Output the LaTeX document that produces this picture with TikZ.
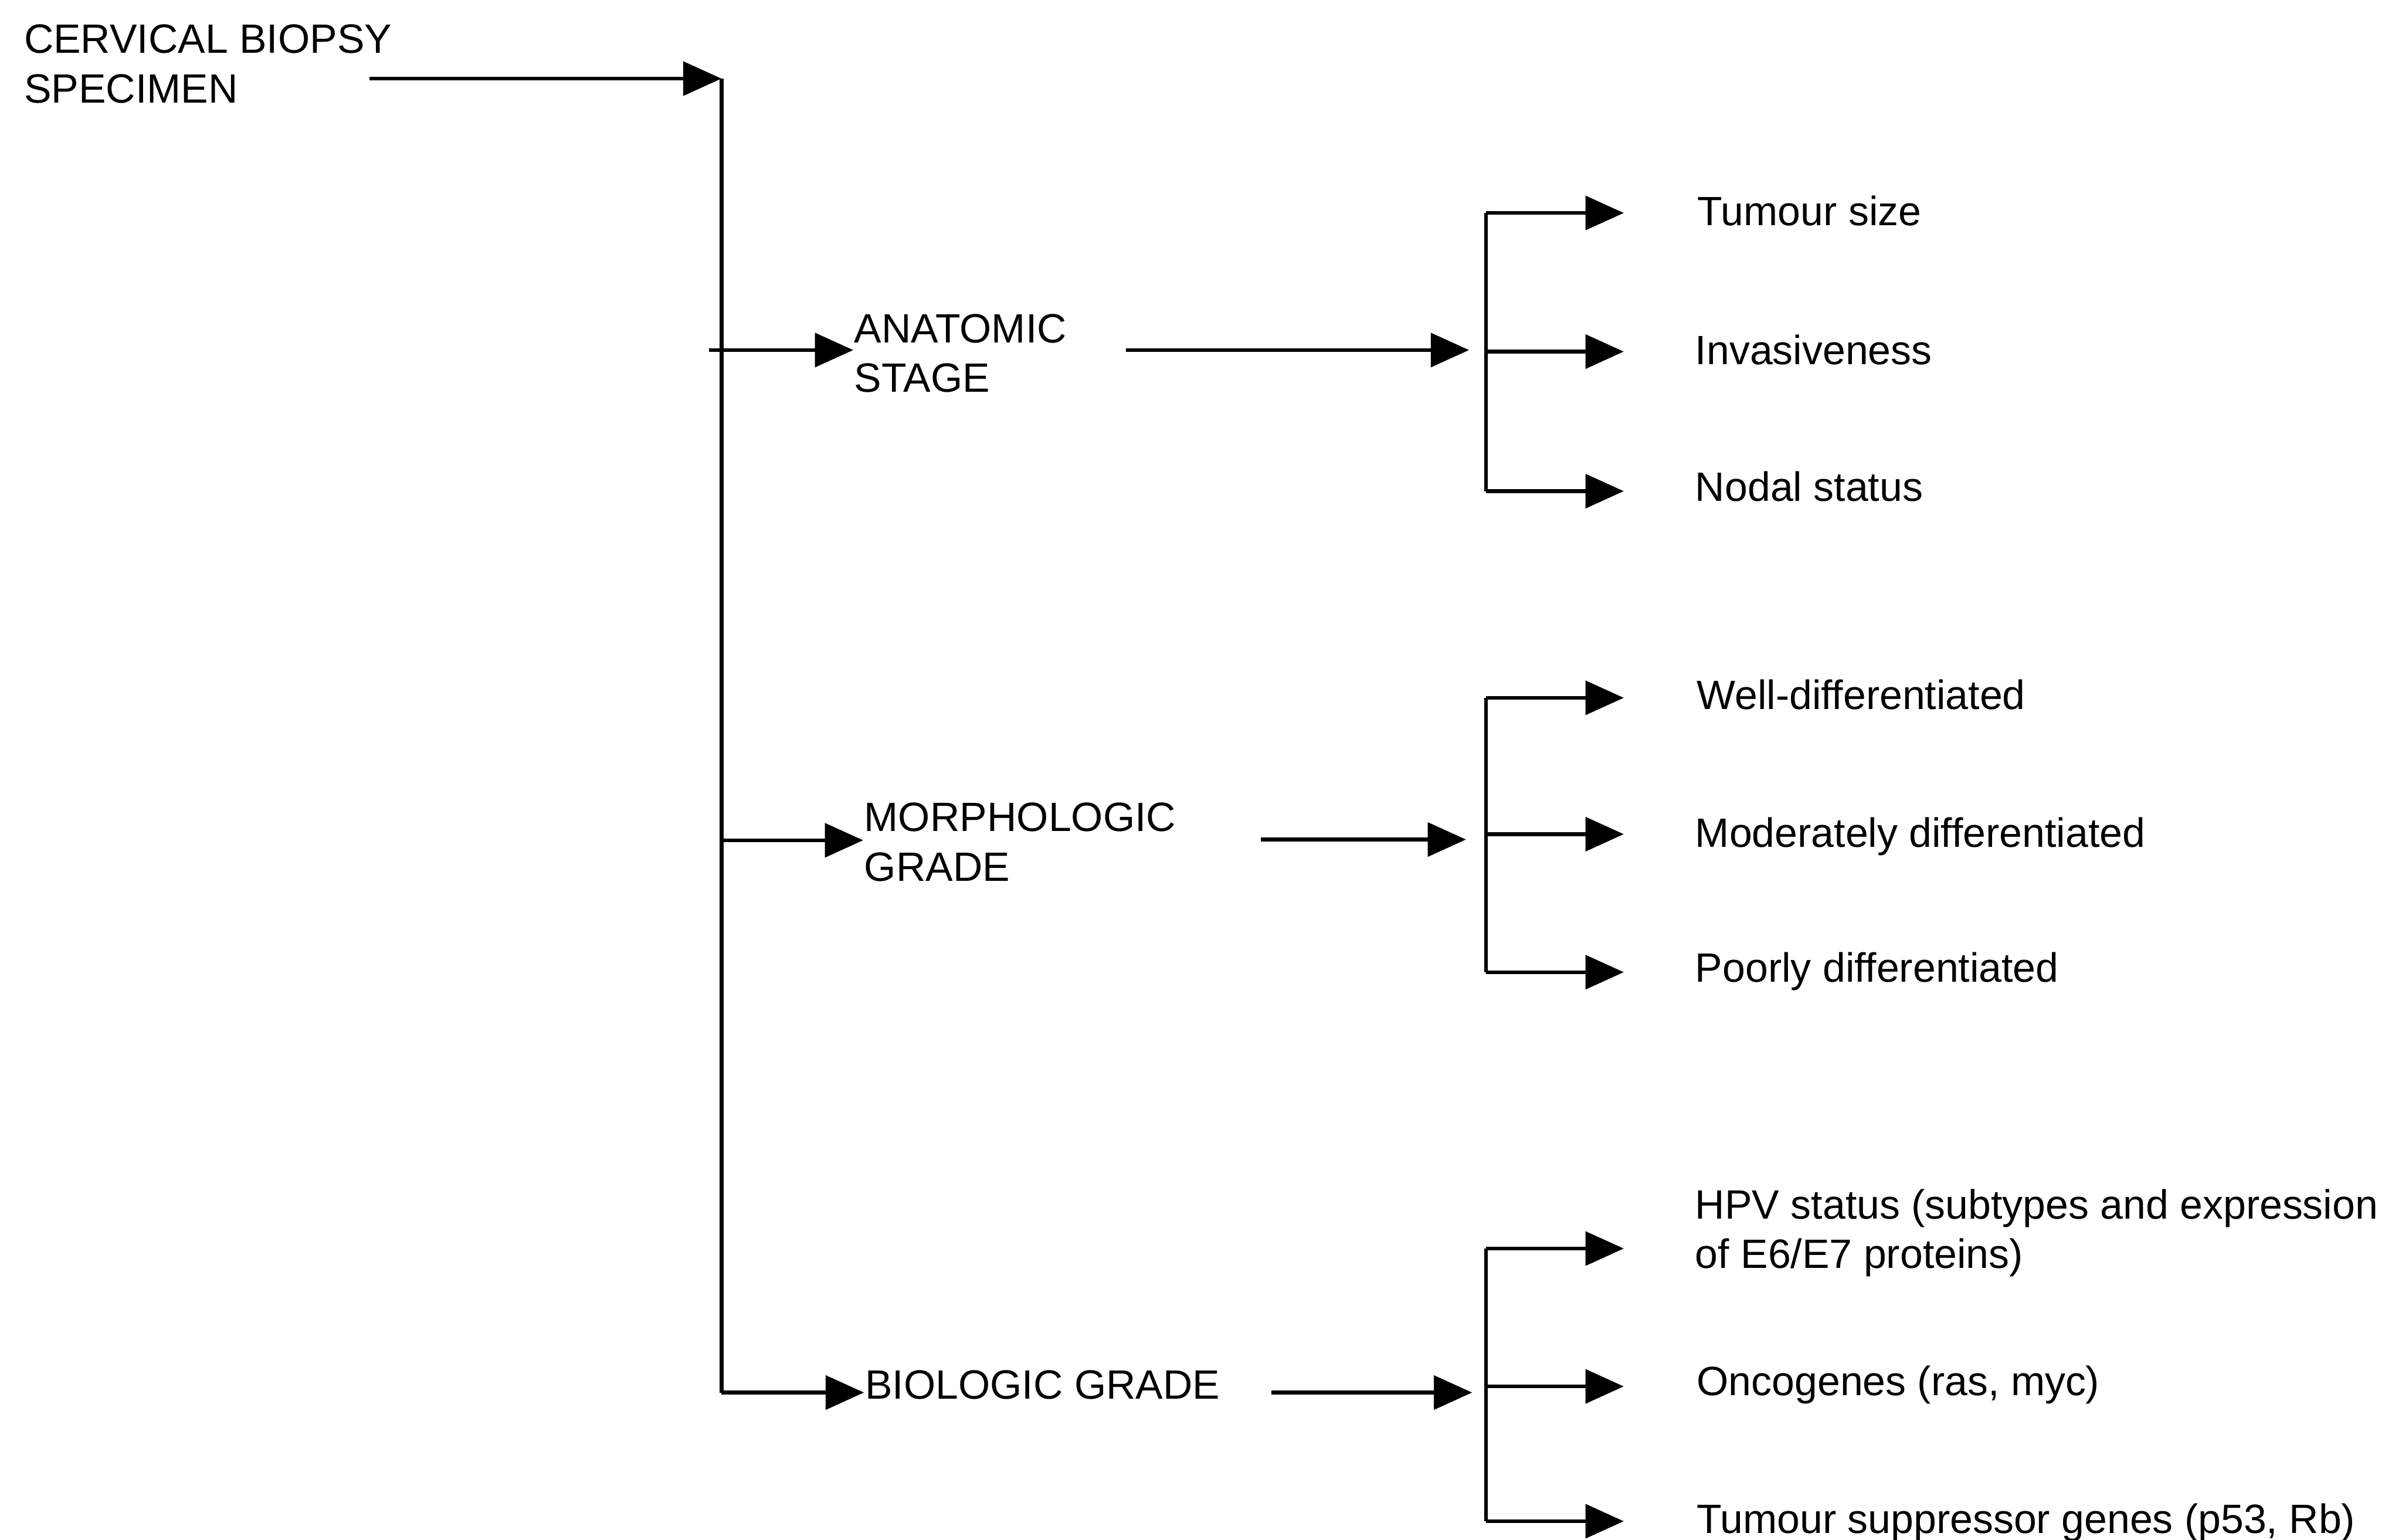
\documentclass[tikz,border=0pt]{standalone}
\usepackage{fontspec}
\setmainfont{Liberation Sans}
\usetikzlibrary{arrows.meta}
\begin{document}
\begin{tikzpicture}[x=0.01cm,y=-0.01cm,
  lbl/.style={anchor=base west, inner sep=0pt, align=left, font=\fontsize{7.6}{9.2}\selectfont},
  ln/.style={line width=0.7pt},
  arr/.style={line width=0.7pt, -{Triangle[length=0.25cm,width=0.22cm]}}]
\useasboundingbox (0,0) rectangle (1568,1005);

% ---- text nodes (base = baseline of the last line) ----
\node[lbl] (cbs)   at (15,67)     {CERVICAL BIOPSY\\SPECIMEN};
\node[lbl] (anat)  at (557,256)   {ANATOMIC\\STAGE};
\node[lbl] (morph) at (563.5,575) {MORPHOLOGIC\\GRADE};
\node[lbl] (bio)   at (564,913)   {BIOLOGIC GRADE};

\node[lbl] (ts)   at (1107.5,147) {Tumour size};
\node[lbl] (inv)  at (1106,238)   {Invasiveness};
\node[lbl] (nod)  at (1106,327)   {Nodal status};
\node[lbl] (well) at (1107,463)   {Well-differentiated};
\node[lbl] (mod)  at (1106,553)   {Moderately differentiated};
\node[lbl] (poor) at (1106,641)   {Poorly differentiated};
\node[lbl] (hpv)  at (1106,828)   {HPV status (subtypes and expression\\of E6/E7 proteins)};
\node[lbl] (onc)  at (1107,911)   {Oncogenes (ras, myc)};
\node[lbl] (tsg)  at (1107,1001)  {Tumour suppressor genes (p53, Rb)};

% ---- junction coordinates ----
\coordinate (s0) at (241,51.3);
\coordinate (j0) at (471,51.3);
\coordinate (jA) at (463,228.5);
\coordinate (jM) at (471,548.5);
\coordinate (jB) at (471,909);

\coordinate (aS) at (735,228.5);  \coordinate (aT) at (959,228.5);
\coordinate (mS) at (823,548);    \coordinate (mT) at (957,548);
\coordinate (bS) at (830,909);    \coordinate (bT) at (961,909);

\coordinate (ka1) at (970,139);   \coordinate (ka2) at (970,229.5); \coordinate (ka3) at (970,320.6);
\coordinate (km1) at (970,455.5); \coordinate (km2) at (970,544.5); \coordinate (km3) at (970,634.6);
\coordinate (kb1) at (970,815);   \coordinate (kb2) at (970,905);   \coordinate (kb3) at (970,993);

\coordinate (ta1) at (1060,139);   \coordinate (ta2) at (1060,229.5); \coordinate (ta3) at (1060,320.6);
\coordinate (tm1) at (1060,455.5); \coordinate (tm2) at (1060,544.5); \coordinate (tm3) at (1060,634.6);
\coordinate (tb1) at (1060,815);   \coordinate (tb2) at (1060,905);   \coordinate (tb3) at (1060,993);

% ---- trunk ----
\draw[arr] (s0) -- (j0);
\draw[ln] (j0) -- (jB);
\draw[arr] (jA) -- (anat.west |- jA);
\draw[arr] (jM) -- (morph.west |- jM);
\draw[arr] (jB) -- (bio.west |- jB);

% ---- second level ----
\draw[arr] (aS) -- (aT);
\draw[arr] (mS) -- (mT);
\draw[arr] (bS) -- (bT);

% ---- brackets ----
\draw[ln] (ka1) -- (ka3);
\draw[ln] (km1) -- (km3);
\draw[ln] (kb1) -- (kb3);

\draw[arr] (ka1) -- (ta1);
\draw[arr] (ka2) -- (ta2);
\draw[arr] (ka3) -- (ta3);
\draw[arr] (km1) -- (tm1);
\draw[arr] (km2) -- (tm2);
\draw[arr] (km3) -- (tm3);
\draw[arr] (kb1) -- (tb1);
\draw[arr] (kb2) -- (tb2);
\draw[arr] (kb3) -- (tb3);
\end{tikzpicture}
\end{document}
